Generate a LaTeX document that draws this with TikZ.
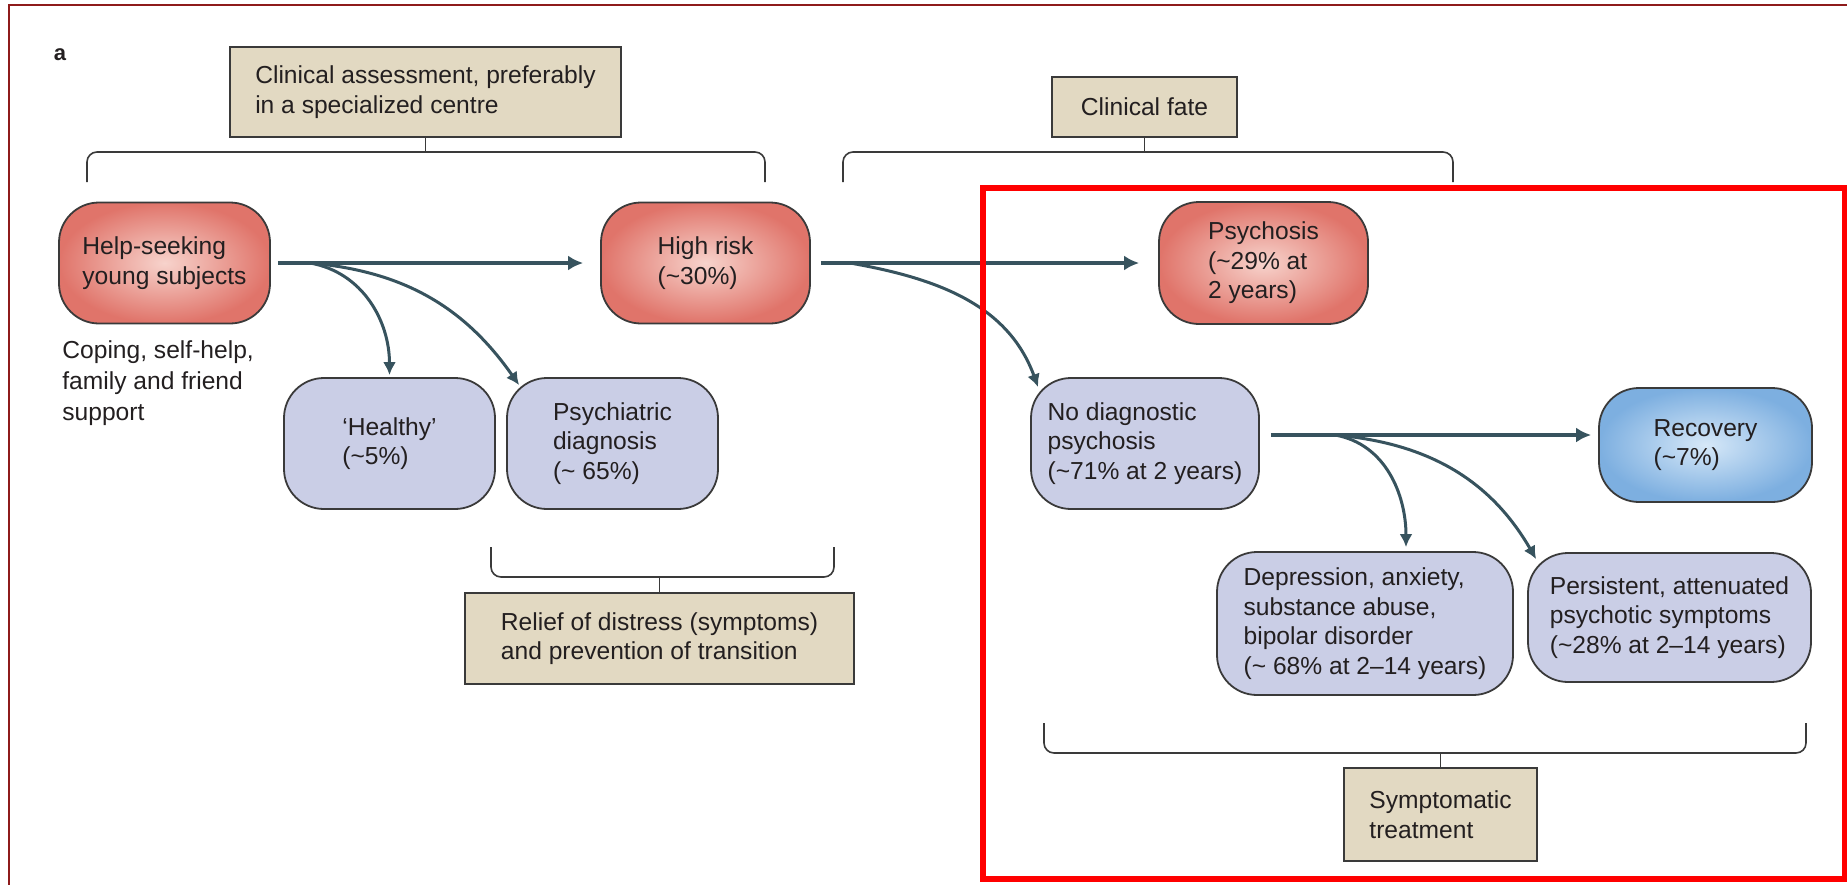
\documentclass[tikz,border=0pt]{standalone}
\usepackage{fontspec}
\setmainfont{Liberation Sans}
\usetikzlibrary{arrows.meta,positioning}

\definecolor{flowcol}{HTML}{37535E}
\definecolor{boxline}{HTML}{3A3A3A}
\definecolor{redout}{HTML}{E0746A}
\definecolor{redin}{HTML}{F7D3CC}
\definecolor{blueout}{HTML}{7DAFE0}
\definecolor{bluein}{HTML}{D6E8F8}
\definecolor{lavender}{HTML}{CACEE6}
\definecolor{beige}{HTML}{E2D9C2}
\definecolor{framecol}{HTML}{8E1B1B}
\definecolor{textcol}{HTML}{231F20}

\newcommand{\boxfont}{\fontsize{12.3}{14.8}\selectfont}

\tikzstyle{stage}=[rounded corners=20pt, draw=boxline, line width=0.9pt, align=left, text=textcol, font=\boxfont, inner sep=0pt]
\tikzstyle{riskbox}=[stage, inner color=redin, outer color=redout]
\tikzstyle{outcomebox}=[stage, fill=lavender]
\tikzstyle{recoverbox}=[stage, inner color=bluein, outer color=blueout]
\tikzstyle{carebox}=[draw=boxline, line width=0.9pt, fill=beige, align=left, text=textcol, font=\boxfont, inner sep=0pt]
\tikzstyle{flow}=[draw=flowcol, line width=2pt, -{Latex[length=7.5pt,width=7.5pt]}]
\tikzstyle{branch}=[draw=flowcol, line width=1.5pt, -{Latex[length=6.5pt,width=6.5pt]}]
\tikzstyle{bracket}=[draw=boxline, line width=0.8pt, rounded corners=5pt]

\begin{document}
\begin{tikzpicture}[x=0.5pt,y=0.5pt]
    \useasboundingbox (0,0) rectangle (1847,-884);
    \clip (0,0) rectangle (1847,-884);
    \draw[framecol, line width=1.2pt] (9,-900) -- (9,-5) -- (1900,-5);

    \node[font=\bfseries\fontsize{11}{13}\selectfont, text=textcol] (panel) at (60,-55) {a};

    % care boxes
    \node[carebox, minimum width=195.5pt, minimum height=45pt] (assess) at (425.5,-92) {Clinical assessment, preferably\\in a specialized centre};
    \node[carebox, minimum width=92.5pt, minimum height=30pt] (fate) at (1144.5,-107) {Clinical fate};
    \node[carebox, minimum width=194.5pt, minimum height=45.5pt] (relief) at (659.5,-638.5) {Relief of distress (symptoms)\\and prevention of transition};
    \node[carebox, minimum width=96.5pt, minimum height=46.5pt] (sympt) at (1440.5,-814.5) {Symptomatic\\treatment};

    % stages
    \node[riskbox, minimum width=105.5pt, minimum height=60.5pt] (help) at (164.5,-263) {Help-seeking\\young subjects};
    \node[riskbox, minimum width=104.5pt, minimum height=60.5pt] (highrisk) at (705.5,-263) {High risk\\(\textasciitilde30\%)};
    \node[riskbox, minimum width=104.5pt, minimum height=61pt] (psychosis) at (1263.5,-263) {Psychosis\\(\textasciitilde29\% at\\2 years)};
    \node[font=\fontsize{12.3}{15.5}\selectfont, text=textcol, align=left, anchor=west, inner sep=0pt] (coping) at (62,-383) {Coping, self-help,\\family and friend\\support};

    \node[outcomebox, minimum width=105.5pt, minimum height=65.5pt] (healthy) at (389.5,-443.5) {‘Healthy’\\(\textasciitilde5\%)};
    \node[outcomebox, minimum width=105.5pt, minimum height=65.5pt] (psychdiag) at (612.5,-443.5) {Psychiatric\\diagnosis\\(\textasciitilde{} 65\%)};
    \node[outcomebox, minimum width=114pt, minimum height=65.5pt] (nodiag) at (1145,-443.5) {No diagnostic\\psychosis\\(\textasciitilde71\% at 2 years)};
    \node[recoverbox, minimum width=106.5pt, minimum height=57pt] (recovery) at (1705.5,-445) {Recovery\\(\textasciitilde7\%)};
    \node[outcomebox, minimum width=148pt, minimum height=71.5pt] (depression) at (1365,-623.5) {Depression, anxiety,\\substance abuse,\\bipolar disorder\\(\textasciitilde{} 68\% at 2--14 years)};
    \node[outcomebox, minimum width=141.5pt, minimum height=64.5pt] (persistent) at (1669.5,-617.5) {Persistent, attenuated\\psychotic symptoms\\(\textasciitilde28\% at 2--14 years)};

    % brackets
    \draw[bracket] (87,-182) -- (87,-152) -- (765,-152) -- (765,-182);
    \draw[bracket] (assess.south) -- ++(0,-15);
    \draw[bracket] (843,-182) -- (843,-152) -- (1453,-152) -- (1453,-182);
    \draw[bracket] (fate.south) -- ++(0,-15);
    \draw[bracket] (491,-547) -- (491,-577) -- (834,-577) -- (834,-547);
    \draw[bracket] (relief.north) -- ++(0,16);
    \draw[bracket] (1044,-723) -- (1044,-753) -- (1806,-753) -- (1806,-723);
    \draw[bracket] (sympt.north) -- ++(0,15);

    % Arcs
    \draw[flow, shorten <=3.5pt, shorten >=8.5pt] (help.east) -- (highrisk.west);
    \draw[flow, shorten <=5pt, shorten >=9.5pt] (highrisk.east) -- (psychosis.west);
    \draw[flow, shorten <=5.5pt, shorten >=3.5pt] ([yshift=4.25pt]nodiag.east) -- ([yshift=4.25pt]nodiag.east -| recovery.west);

    \coordinate (fork1) at (310,-263);
    \coordinate (fork2) at (850,-263);
    \coordinate (fork3) at (1335,-435);
    \draw[branch] (fork1) to[out=-10,in=90] ([yshift=1pt]healthy.north);
    \draw[branch] (fork1) to[out=-5,in=125] ([xshift=6.5pt,yshift=-4pt]psychdiag.north west);
    \draw[branch] (fork2) to[out=-10,in=110] ([xshift=4pt,yshift=-5pt]nodiag.north west);
    \draw[branch] (fork3) to[out=-10,in=90] ([xshift=20.5pt,yshift=2pt]depression.north);
    \draw[branch] (fork3) to[out=-5,in=120] ([xshift=4.5pt,yshift=-3.5pt]persistent.north west);

    \draw[red, line width=3pt] (983,-188) rectangle (1845,-879);
\end{tikzpicture}
\end{document}
